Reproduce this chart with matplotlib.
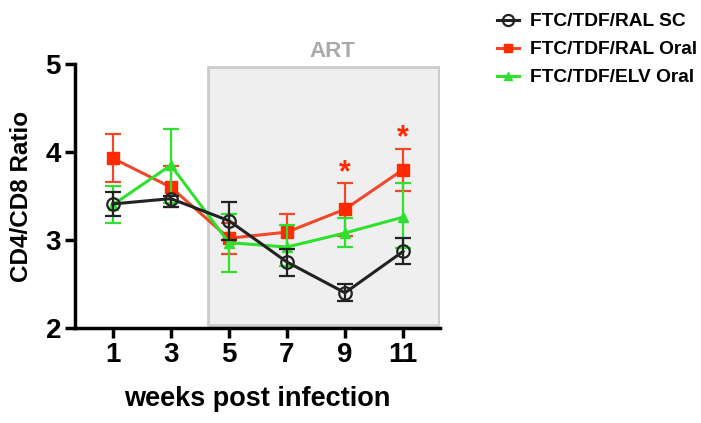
import matplotlib.pyplot as plt
from matplotlib.lines import Line2D
from matplotlib.patches import Rectangle

weeks = [1, 3, 5, 7, 9, 11]

# FTC/TDF/RAL SC
sc_mean = [3.41, 3.47, 3.22, 2.75, 2.40, 2.87]
sc_low = [3.27, 3.37, 3.00, 2.59, 2.31, 2.73]
sc_high = [3.55, 3.50, 3.43, 2.90, 2.50, 3.02]

# FTC/TDF/RAL Oral
ral_mean = [3.93, 3.60, 3.02, 3.09, 3.35, 3.80]
ral_low = [3.66, 3.37, 2.84, 2.90, 3.05, 3.56]
ral_high = [4.20, 3.84, 3.19, 3.30, 3.65, 4.03]

# FTC/TDF/ELV Oral
elv_mean = [3.40, 3.85, 2.97, 2.92, 3.08, 3.26]
elv_low = [3.19, 3.42, 2.64, 2.71, 2.92, 2.91]
elv_high = [3.61, 4.26, 3.30, 3.17, 3.25, 3.65]

star_weeks = [9, 11]
star_y = [3.76, 4.16]

BLACK = "#222222"
RED = "#f0482a"
GREEN = "#2fe02f"

plt.rcParams["font.family"] = ["Liberation Sans", "DejaVu Sans"]
plt.rcParams["font.weight"] = "bold"

fig = plt.figure(figsize=(7.01, 4.23), dpi=100)
ax = fig.add_axes([0.107, 0.2246, 0.521, 0.624])

# ART shading
ax.add_patch(Rectangle((4.28, 2.03), 12.28 - 4.28 - 0.05, 4.97 - 2.03,
                       facecolor="#efefef", edgecolor="#cccccc", lw=2, zorder=0))
ax.text(8.55, 5.14, "ART", color="#aaaaaa", fontsize=16, fontweight="bold",
        ha="center", va="center")


def err(mean, low, high):
    return [[m - l for m, l in zip(mean, low)], [h - m for m, h in zip(mean, high)]]


ax.errorbar(weeks, elv_mean, yerr=err(elv_mean, elv_low, elv_high), color=GREEN,
            lw=2.2, elinewidth=1.6, capsize=6, capthick=1.6, marker="^", ms=7,
            zorder=3)
ax.errorbar(weeks, ral_mean, yerr=err(ral_mean, ral_low, ral_high), color=RED,
            lw=2.2, elinewidth=1.6, capsize=6, capthick=1.6, marker="s", ms=8,
            mfc="#ff2a00", mec="#ff2a00", zorder=2)
ax.errorbar(weeks, sc_mean, yerr=err(sc_mean, sc_low, sc_high), color=BLACK,
            lw=2.2, elinewidth=1.6, capsize=6, capthick=1.6, marker="o", ms=9,
            mfc="none", mew=1.6, zorder=4)

for w, y in zip(star_weeks, star_y):
    ax.text(w, y, "*", color="#ff2a00", fontsize=22, fontweight="bold",
            ha="center", va="center")

ax.set_xlim(-0.3, 12.28)
ax.set_ylim(2, 5)
ax.set_xticks(weeks)
ax.set_yticks([2, 3, 4, 5])
for s in ["top", "right"]:
    ax.spines[s].set_visible(False)
for s in ["left", "bottom"]:
    ax.spines[s].set_linewidth(2.5)
ax.tick_params(width=2.5, length=7, labelsize=20, pad=3)
for lab in ax.get_xticklabels() + ax.get_yticklabels():
    lab.set_fontweight("bold")
ax.set_xlabel("weeks post infection", fontsize=19.5, fontweight="bold", labelpad=13)
ax.set_ylabel("CD4/CD8 Ratio", fontsize=17.5, fontweight="bold", labelpad=9)

handles = [
    Line2D([], [], color=BLACK, lw=2.2, marker="o", ms=8, mfc="none", mew=1.6),
    Line2D([], [], color=RED, lw=2.2, marker="s", ms=6, mfc="#ff2a00", mec="#ff2a00"),
    Line2D([], [], color=GREEN, lw=2.2, marker="^", ms=6),
]
labels = ["FTC/TDF/RAL SC", "FTC/TDF/RAL Oral", "FTC/TDF/ELV Oral"]
fig.legend(handles, labels, loc="upper left", bbox_to_anchor=(0.685, 1.01),
           frameon=False, handlelength=1.1, handletextpad=0.6, labelspacing=0.55,
           prop={"weight": "bold", "size": 13.8})

fig.savefig("out.png", dpi=100)
